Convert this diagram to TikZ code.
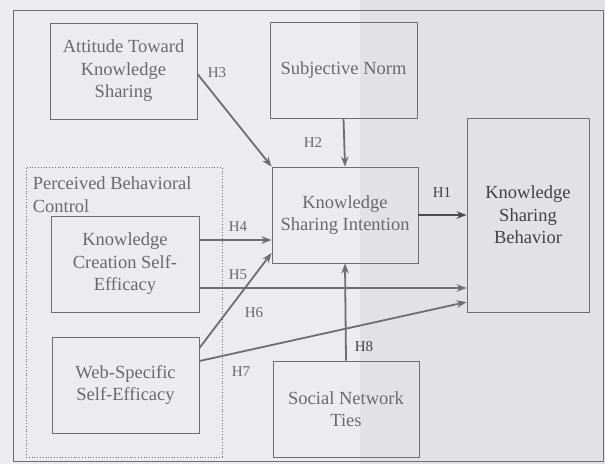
\documentclass[tikz,border=0pt]{standalone}
\usepackage{fontspec}
\setmainfont{Liberation Serif}
\usetikzlibrary{arrows.meta}
\definecolor{bgA}{HTML}{ECECEF}
\definecolor{bgB}{HTML}{E2E2E6}
\definecolor{ink}{HTML}{6A6A6A}
\definecolor{inkd}{HTML}{424242}
\definecolor{lin}{HTML}{6E6E6E}
\definecolor{lind}{HTML}{4A4A4A}
\begin{document}
\begin{tikzpicture}[x=1pt,y=-1pt,
  box/.style={draw=lin, line width=0.9pt, text=ink, align=center, inner sep=0pt,
    font=\fontsize{18.5}{22.5}\selectfont},
  arr/.style={draw=lin, line width=1.8pt, -{Stealth[length=10pt,width=7.5pt]}},
  hl/.style={text=ink, inner sep=0pt, font=\fontsize{15}{18}\selectfont}]
\fill[bgA] (0,0) rectangle (605,464);
\fill[bgB] (360,0) rectangle (605,464);
\useasboundingbox (0,0) rectangle (605,464);
\draw[lin, line width=1pt] (13,10) rectangle (603,461);

% boxes
\node[box, minimum width=147pt, minimum height=96pt] (att) at (123.5,71) {Attitude Toward\\Knowledge\\Sharing};
\node[box, minimum width=147pt, minimum height=96pt] (sn) at (343.5,70) {Subjective Norm};
\node[box, minimum width=146pt, minimum height=96pt] (int) at (345,215) {Knowledge\\Sharing Intention};
\node[box, text=inkd, minimum width=122pt, minimum height=194pt] (ksb) at (528,215) {Knowledge\\Sharing\\Behavior};
\node[draw=lin, dotted, line width=0.8pt, minimum width=196pt, minimum height=290pt, inner sep=0pt] (pbc) at (124,312) {};
\node[anchor=north west, align=left, text=ink, inner sep=0pt, font=\fontsize{18.5}{22.5}\selectfont] (pbcl) at ([xshift=7pt,yshift=-10pt]pbc.north west) {Perceived Behavioral\\Control};
\node[box, minimum width=148pt, minimum height=96pt] (kcse) at (125,264) {Knowledge\\Creation Self-\\Efficacy};
\node[box, minimum width=147pt, minimum height=96pt] (web) at (125.5,385) {Web-Specific\\Self-Efficacy};
\node[box, minimum width=146pt, minimum height=96pt] (snt) at (346,409) {Social Network\\Ties};

% arrows
\draw[arr] ([yshift=-3pt]att.east) -- (int.north west);
\draw[arr] (sn.south) -- (int.north);
\draw[arr, draw=lind] (int.east) -- (ksb.west);
\draw[arr] ([yshift=24pt]kcse.east) -- ([yshift=24pt]kcse.east -| int.west);
\draw[arr] ([yshift=-24pt]kcse.east) -- ([yshift=-24pt]kcse.east -| ksb.west);
\draw[arr] ([yshift=37pt]web.east) -- ([yshift=-38pt]int.west);
\draw[arr] ([yshift=24pt]web.east) -- ([yshift=-87pt]ksb.west);
\draw[arr] (snt.north) -- (int.south);

% labels
\node[hl] (h3) at (217,73) {H3};
\node[hl] (h2) at (313,143) {H2};
\node[hl, text=inkd] (h1) at (442,193) {H1};
\node[hl] (h4) at (238,227) {H4};
\node[hl] (h5) at (238,275) {H5};
\node[hl] (h6) at (254,313) {H6};
\node[hl] (h7) at (241,372) {H7};
\node[hl, text=inkd] (h8) at (364,347) {H8};
\end{tikzpicture}
\end{document}
